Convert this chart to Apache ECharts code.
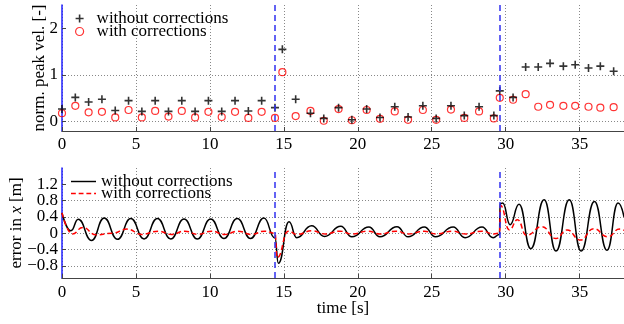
<!DOCTYPE html>
<html>
<head>
<meta charset="utf-8">
<script src="https://cdn.jsdelivr.net/npm/echarts@6/dist/echarts.min.js"></script>
<style>
  html, body { margin: 0; padding: 0; background: #fff; }
  #chart { width: 624px; height: 324px; }
</style>
</head>
<body>
<div id="chart"></div>
<script>
// peak velocity samples (top plot)
const peakTime = [0, 0.9, 1.8, 2.7, 3.6, 4.5, 5.4, 6.3, 7.2, 8.1, 9.0, 9.9, 10.8, 11.7, 12.6, 13.5, 14.4, 14.9, 15.8, 16.8,
  17.7, 18.7, 19.6, 20.6, 21.5, 22.5, 23.4, 24.4, 25.3, 26.3, 27.2, 28.2, 29.2, 29.6, 30.5, 31.35, 32.2, 33.0, 33.9, 34.7,
  35.6, 36.4, 37.3];
const peakRaw = [0.27, 0.52, 0.42, 0.48, 0.24, 0.45, 0.22, 0.45, 0.22, 0.45, 0.22, 0.45, 0.22, 0.45, 0.23, 0.45, 0.30, 1.55, 0.48, 0.18,
  0.07, 0.30, 0.04, 0.27, 0.09, 0.32, 0.10, 0.34, 0.07, 0.34, 0.13, 0.32, 0.13, 0.66, 0.52, 1.17, 1.17, 1.25, 1.19, 1.22,
  1.15, 1.19, 1.08];
const peakCorr = [0.18, 0.34, 0.20, 0.21, 0.09, 0.25, 0.09, 0.23, 0.11, 0.23, 0.09, 0.21, 0.10, 0.21, 0.08, 0.21, 0.08, 1.06, 0.12, 0.23,
  0.02, 0.27, 0.03, 0.25, 0.06, 0.22, 0.04, 0.25, 0.04, 0.26, 0.08, 0.22, 0.07, 0.51, 0.47, 0.59, 0.32, 0.36, 0.34, 0.34,
  0.32, 0.30, 0.31];

// position error (bottom plot), read at extrema of the curves
const errTimeRaw = [0, 0.6, 1.1, 2.0, 2.85, 3.75, 4.65, 5.55, 6.45, 7.35, 8.25, 9.15, 10.05, 10.95, 11.85, 12.75, 13.65, 14.4, 14.63,
  15.35, 15.87, 16.88, 17.75, 18.85, 19.6, 20.75, 21.5, 22.65, 23.4, 24.5, 25.25, 26.45, 27.25, 28.4, 29.15, 29.58, 29.62,
  29.8, 30.3, 30.9, 31.7, 32.6, 33.4, 34.3, 35.1, 36.0, 36.85, 37.6, 38];
const errRaw = [0.5, 0.06, 0.34, -0.18, 0.37, -0.15, 0.36, -0.14, 0.36, -0.14, 0.35, -0.14, 0.35, -0.13, 0.36, -0.13, 0.37, -0.12, -0.74,
  0.28, -0.11, 0.18, -0.08, 0.17, -0.09, 0.15, -0.09, 0.16, -0.09, 0.15, -0.09, 0.15, -0.11, 0.15, -0.11, -0.03, 0.72,
  0.74, 0.21, 0.71, -0.38, 0.82, -0.44, 0.82, -0.44, 0.78, -0.42, 0.74, 0.4];
const errTimeCorr = [0, 0.7, 1.4, 2.3, 3.4, 4.4, 5.4, 6.5, 7.4, 8.3, 9.2, 10.1, 11.0, 11.9, 12.8, 13.7, 14.4, 14.55,
  15.3, 15.9, 16.9, 17.8, 18.8, 19.6, 20.7, 21.5, 22.6, 23.4, 24.5, 25.3, 26.4, 27.3, 28.4, 29.2, 29.58, 29.65,
  30.25, 30.8, 31.4, 32.45, 33.4, 34.15, 35.05, 35.95, 36.9, 37.7, 38];
const errCorr = [0.5, -0.02, 0.14, -0.04, 0.0, 0.1, -0.03, 0.05, -0.03, 0.05, -0.03, 0.05, -0.03, 0.05, -0.03, 0.05, 0.0, -0.6,
  0.05, -0.03, 0.06, -0.02, 0.05, -0.02, 0.05, -0.02, 0.05, -0.02, 0.05, -0.02, 0.05, -0.02, 0.05, -0.02, 0.0, 0.68,
  0.08, 0.33, -0.05, 0.16, -0.13, 0.08, -0.17, 0.11, -0.09, 0.1, 0.07];

// switching instants (blue dashed lines)
const eventTimes = [14.4, 29.6];

const peakTicks = [0, 1, 2];
const errTicks = [-0.8, -0.4, 0, 0.4, 0.8, 1.2];

const legendText = {
  peakRaw: "without corrections",
  peakCorr: "with corrections",
  errRaw: "without corrections",
  errCorr: "with corrections",
};

const FONT = "Liberation Serif";
const PLUS = "path://M4,0H6V4H10V6H6V10H4V6H0V4H4Z";
// legend keys for the two line styles (solid / dashed)
const SOLID_KEY = "path://M0,0H26V1.5H0Z";
const DASH_KEY = "path://M0,0H5V1.5H0Z M8,0H13V1.5H8Z M16,0H21V1.5H16Z M24,0H26V1.5H24Z";

const chart = echarts.init(document.getElementById("chart"), null, { renderer: "canvas" });

const gridLine = { show: true, showMaxLine: false, lineStyle: { color: "#888", type: [1, 2], width: 1 } };
const textStyle = { fontFamily: FONT, fontSize: 17, color: "#000" };
const tick = { show: true, inside: true, length: 4, lineStyle: { color: "#444" } };
const minus = (v) => (v < 0 ? "\u2212" + Math.abs(v) : String(v));

function xAxisFor(gridIndex, withName) {
  return {
    type: "value",
    gridIndex,
    min: 0,
    max: 38,
    interval: 5,
    name: withName ? "time [s]" : "",
    nameLocation: "middle",
    nameGap: 22,
    nameMoveOverlap: false,
    nameTextStyle: textStyle,
    axisLine: { show: true, onZero: false, lineStyle: { color: "#444", width: 1.2 } },
    axisTick: tick,
    axisLabel: { ...textStyle, margin: gridIndex === 0 ? 5 : 6, showMaxLabel: false, hideOverlap: false },
    splitLine: gridLine,
  };
}

// the error-axis labels are tightly packed; split them over two stacked
// axes so the renderer does not drop every other one
function errLabelAxis(values, main) {
  return {
    type: "value",
    gridIndex: 1,
    position: "left",
    offset: 0,
    min: -1.1,
    max: 1.6,
    name: main ? "error in {i|x} [m]" : "",
    nameLocation: "middle",
    nameGap: 37,
    nameMoveOverlap: false,
    nameTextStyle: { ...textStyle, rich: { i: { fontFamily: FONT, fontSize: 17, fontStyle: "italic", color: "#000" } } },
    axisLine: { show: main, onZero: false, lineStyle: { color: "#2020ff", width: 1.5 } },
    axisTick: main ? { ...tick, customValues: errTicks } : { show: false },
    axisLabel: { ...textStyle, margin: 4, customValues: values, formatter: minus, hideOverlap: false },
    splitLine: main ? gridLine : { show: false },
  };
}

const markLine = {
  silent: true,
  symbol: "none",
  label: { show: false },
  lineStyle: { color: "#3030f0", type: [6, 4], width: 1.5 },
  data: eventTimes.map((t) => ({ xAxis: t })),
};

const option = {
  animation: false,
  backgroundColor: "#fff",
  textStyle: { fontFamily: FONT },
  grid: [
    { left: 62, right: 0, top: 5, height: 126, outerBoundsMode: "none" },
    { left: 62, right: 0, top: 168, height: 110, outerBoundsMode: "none" },
  ],
  legend: [
    {
      orient: "vertical",
      left: 70,
      top: 5,
      itemWidth: 24,
      itemHeight: 8,
      itemGap: -4,
      selectedMode: false,
      textStyle: { ...textStyle, lineHeight: 14 },
      formatter: (n) => legendText[n],
      data: [
        { name: "peakRaw", icon: PLUS, itemStyle: { color: "#000" } },
        { name: "peakCorr", icon: "circle", itemStyle: { color: "transparent", borderColor: "#ff0000", borderWidth: 1.2 } },
      ],
    },
    {
      orient: "vertical",
      left: 66,
      top: 168,
      itemWidth: 25,
      itemHeight: 10,
      itemGap: -5,
      selectedMode: false,
      textStyle: { ...textStyle, lineHeight: 13 },
      formatter: (n) => legendText[n],
      data: [
        { name: "errRaw", icon: SOLID_KEY, itemStyle: { color: "#000", borderWidth: 0 } },
        { name: "errCorr", icon: DASH_KEY, itemStyle: { color: "#ff0000", borderWidth: 0 } },
      ],
    },
  ],
  xAxis: [xAxisFor(0, false), xAxisFor(1, true)],
  yAxis: [
    {
      type: "value",
      gridIndex: 0,
      min: -0.2,
      max: 2.5,
      name: "norm. peak vel. [-]",
      nameLocation: "middle",
      nameGap: 14,
      nameMoveOverlap: false,
      nameTextStyle: textStyle,
      axisLine: { show: true, onZero: false, lineStyle: { color: "#2020ff", width: 1.5 } },
      axisTick: { ...tick, customValues: peakTicks },
      axisLabel: { ...textStyle, margin: 4, customValues: peakTicks, hideOverlap: false },
      splitLine: gridLine,
    },
    errLabelAxis(errTicks.filter((_, i) => i % 2 === 0), true),
    errLabelAxis(errTicks.filter((_, i) => i % 2 === 1), false),
  ],
  series: [
    {
      name: "peakCorr",
      type: "scatter",
      xAxisIndex: 0,
      yAxisIndex: 0,
      symbol: "circle",
      symbolSize: 7,
      itemStyle: { color: "transparent", borderColor: "#ff0000", borderWidth: 1.2 },
      data: peakTime.map((t, i) => [t, peakCorr[i]]),
      markLine,
    },
    {
      name: "peakRaw",
      type: "scatter",
      xAxisIndex: 0,
      yAxisIndex: 0,
      symbol: PLUS,
      symbolSize: 8,
      itemStyle: { color: "#000" },
      data: peakTime.map((t, i) => [t, peakRaw[i]]),
    },
    {
      name: "errRaw",
      type: "line",
      xAxisIndex: 1,
      yAxisIndex: 1,
      symbol: "none",
      smooth: 0.5,
      smoothMonotone: "x",
      lineStyle: { color: "#000", width: 1.5 },
      itemStyle: { color: "#000" },
      data: errTimeRaw.map((t, i) => [t, errRaw[i]]),
      markLine,
    },
    {
      name: "errCorr",
      type: "line",
      xAxisIndex: 1,
      yAxisIndex: 1,
      symbol: "none",
      smooth: 0.5,
      smoothMonotone: "x",
      lineStyle: { color: "#ff0000", width: 1.5, type: [5, 3] },
      itemStyle: { color: "#ff0000" },
      data: errTimeCorr.map((t, i) => [t, errCorr[i]]),
    },
  ],
};

chart.setOption(option);
</script>
</body>
</html>
